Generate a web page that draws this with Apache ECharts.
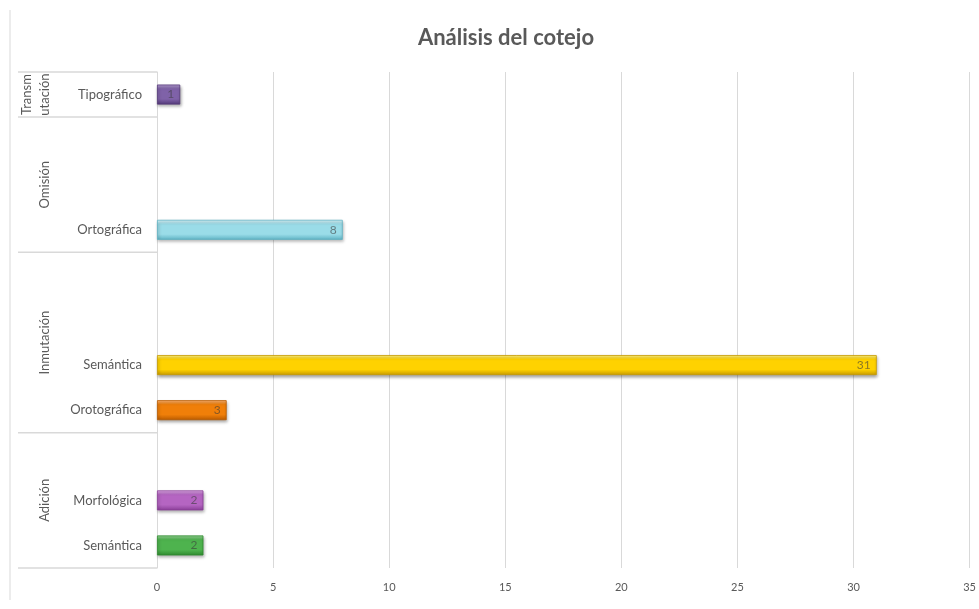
<!DOCTYPE html>
<html>
<head>
<meta charset="utf-8">
<script src="https://cdn.jsdelivr.net/npm/echarts@6/dist/echarts.min.js"></script>
<style>
html,body{margin:0;padding:0;background:#fff;}
#chart{width:979px;height:609px;}
</style>
</head>
<body>
<div id="chart"></div>
<script>
// ---- data (bottom to top) ----
var categories = ['Semántica','Morfológica','','Orotográfica','Semántica','','','Ortográfica','','','Tipográfico'];
var values     = [2, 2, null, 3, 31, null, null, 8, null, null, 1];
var groupNames = ['Adición','Inmutación','Omisión','Transm\nutación'];
var groupSizes = [3, 4, 3, 1];
var xTicks = {min: 0, max: 35, interval: 5};
var titleText = 'Análisis del cotejo';

// ---- styles ----
var barColors = {
  0: ['#9ad99a','#4eb34e','#2f8a2f'],
  1: ['#e0aee8','#b565c2','#8a3f98'],
  3: ['#ffb778','#f07f09','#b85a00'],
  4: ['#fff48a','#ffd200','#c79a00'],
  7: ['#e0f7fb','#9adce8','#5fb3c4'],
  10:['#b7a1d4','#7f62a8','#54397a']
};
var FONT = 'Lato, "Open Sans", sans-serif';
var GRAY = '#595959';

function grad(c){
  return new echarts.graphic.LinearGradient(0,0,0,1,[
    {offset:0, color:c[0]},
    {offset:0.22, color:c[1]},
    {offset:0.72, color:c[1]},
    {offset:1, color:c[2]}
  ]);
}

var chart = echarts.init(document.getElementById('chart'), null, {renderer:'canvas'});

var seriesData = values.map(function(v,i){
  if (v === null) return null;
  var c = barColors[i];
  return {value:v, itemStyle:{color:grad(c), borderColor:c[2], borderWidth:0.8}};
});

chart.setOption({
  animation:false,
  backgroundColor:'#fff',
  title:{
    text:titleText, left:501, top:22, textAlign:'center',
    textStyle:{fontFamily:FONT, fontWeight:'bold', fontSize:22, color:GRAY}
  },
  grid:{left:157, right:9, top:72, bottom:41, containLabel:false},
  xAxis:{
    type:'value', min:xTicks.min, max:xTicks.max, interval:xTicks.interval,
    axisLine:{show:false}, axisTick:{show:false},
    axisLabel:{fontFamily:FONT, fontSize:11, color:GRAY, margin:14},
    splitLine:{lineStyle:{color:'#d9d9d9', width:1}}
  },
  yAxis:{
    type:'category', data:categories,
    axisLine:{lineStyle:{color:'#d9d9d9'}},
    axisTick:{show:false},
    axisLabel:{fontFamily:FONT, fontSize:13, color:GRAY, margin:15}
  },
  series:[{
    type:'bar', data:seriesData, barWidth:20,
    itemStyle:{shadowBlur:3, shadowOffsetX:1, shadowOffsetY:2, shadowColor:'rgba(0,0,0,0.35)'},
    label:{show:true, position:'insideRight', distance:6,
      fontFamily:FONT, fontSize:12, color:'rgba(60,60,60,0.6)'}
  }]
});

// multi-level group labels and separators, positioned from the axis scale
function drawGroups(){
  var c0 = chart.convertToPixel({yAxisIndex:0}, 0);
  var c1 = chart.convertToPixel({yAxisIndex:0}, 1);
  var pitch = c0 - c1;
  var xLeft = chart.convertToPixel({xAxisIndex:0}, 0);
  var els = [];
  var idx = 0;
  var bottom = c0 + pitch/2;
  els.push({type:'line', shape:{x1:18, y1:bottom, x2:xLeft, y2:bottom}, style:{stroke:'#d9d9d9', lineWidth:1.5}, silent:true});
  groupSizes.forEach(function(sz, g){
    var yb = chart.convertToPixel({yAxisIndex:0}, idx) + pitch/2;
    var yt = chart.convertToPixel({yAxisIndex:0}, idx + sz - 1) - pitch/2;
    els.push({type:'line', shape:{x1:18, y1:yt, x2:xLeft, y2:yt}, style:{stroke:'#d9d9d9', lineWidth:1.5}, silent:true});
    var multi = groupNames[g].indexOf('\n') >= 0;
    els.push({type:'text', x: multi ? 36 : 45, y:(yb+yt)/2, rotation:Math.PI/2,
      style:{text:groupNames[g], fill:GRAY, fontFamily:FONT, fontSize:13, lineHeight:18,
        align:'center', verticalAlign:'middle'}, silent:true});
    idx += sz;
  });
  // outer chart border (left edge)
  els.push({type:'line', shape:{x1:10, y1:10, x2:10, y2:600}, style:{stroke:'#d9d9d9', lineWidth:1}, silent:true});
  chart.setOption({graphic:els});
}
drawGroups();
</script>
</body>
</html>
